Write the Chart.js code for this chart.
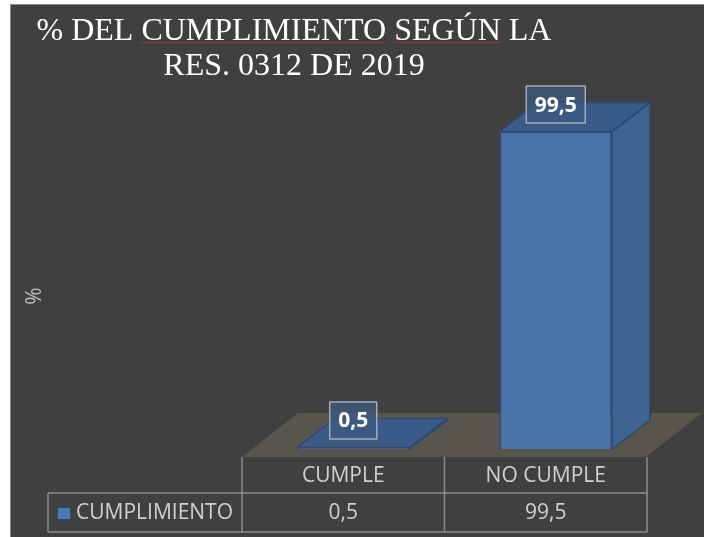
<!DOCTYPE html>
<html>
<head>
<meta charset="utf-8">
<title>% del cumplimiento</title>
<script src="https://cdn.jsdelivr.net/npm/chart.js@4/dist/chart.umd.min.js"></script>
<style>
    html, body { margin: 0; padding: 0; background: #ffffff; }
    #wrap { width: 704px; height: 537px; }
</style>
</head>
<body>
<div id="wrap"><canvas id="chart" width="704" height="537"></canvas></div>
<script>
// Chart data
const categories = ['CUMPLE', 'NO CUMPLE'];
const cumplimiento = [0.5, 99.5];
const seriesName = 'CUMPLIMIENTO';
const titleLines = ['% DEL CUMPLIMIENTO SEGÚN LA', 'RES. 0312 DE 2019'];
const axisTitle = '%';
const misspelled = ['CUMPLIMIENTO', 'SEGÚN'];

// Style constants
const BG = '#404040';
const TEXT = '#d0d0d0';
const GRID = '#8a8a8a';
const FLOOR = '#58554c';
const FRONT = 'rgba(74, 121, 180, 0.9)';
const SIDE = '#3f6393';
const TOP = '#3a5b87';
const EDGE = '#2d4a72';
const DX = 38, DY = -29;          // bar depth
const GAP_X = -10, GAP_Y = 8;     // floor front edge vs bar base
const FLOOR_DX = 56, FLOOR_DY = -44;

function fmt(v) {
    return v.toFixed(1).replace('.', ',');
}

function poly(ctx, pts, fill, stroke, lw) {
    ctx.beginPath();
    ctx.moveTo(pts[0][0], pts[0][1]);
    for (let i = 1; i < pts.length; i++) ctx.lineTo(pts[i][0], pts[i][1]);
    ctx.closePath();
    if (fill) { ctx.fillStyle = fill; ctx.fill(); }
    if (stroke) { ctx.strokeStyle = stroke; ctx.lineWidth = lw || 1; ctx.stroke(); }
}

const scene3d = {
    id: 'scene3d',
    beforeDraw(chart) {
        const ctx = chart.ctx;
        const area = chart.chartArea;
        ctx.save();
        // Frame
        ctx.fillStyle = '#ffffff';
        ctx.fillRect(0, 0, chart.width, chart.height);
        ctx.fillStyle = BG;
        ctx.fillRect(10, 4, chart.width - 10, chart.height - 4);
        ctx.strokeStyle = '#8c8c8c';
        ctx.lineWidth = 1;
        ctx.beginPath();
        ctx.moveTo(10.5, chart.height);
        ctx.lineTo(10.5, 4.5);
        ctx.lineTo(chart.width, 4.5);
        ctx.stroke();

        // Title
        ctx.fillStyle = '#ffffff';
        ctx.font = '32px "Liberation Serif", "Times New Roman", serif';
        ctx.textAlign = 'center';
        ctx.textBaseline = 'alphabetic';
        const cx = 294;
        ctx.fillText(titleLines[0], cx, 40);
        ctx.fillText(titleLines[1], cx, 75);
        // spell-check underline in the original
        const w0 = ctx.measureText(titleLines[0]).width;
        const x0 = cx - w0 / 2;
        ctx.strokeStyle = 'rgba(190, 50, 50, 0.7)';
        ctx.lineWidth = 1;
        misspelled.forEach(word => {
            const idx = titleLines[0].indexOf(word);
            if (idx < 0) return;
            const a = x0 + ctx.measureText(titleLines[0].slice(0, idx)).width;
            const b = a + ctx.measureText(word).width;
            ctx.beginPath();
            ctx.moveTo(a, 42.5);
            ctx.lineTo(b, 42.5);
            ctx.stroke();
        });

        // Axis title
        ctx.save();
        ctx.translate(35, 296);
        ctx.rotate(-Math.PI / 2);
        ctx.fillStyle = '#bfbfbf';
        ctx.font = '21px "Open Sans", sans-serif';
        ctx.textAlign = 'center';
        ctx.textBaseline = 'middle';
        ctx.fillText(axisTitle, 0, 0);
        ctx.restore();

        // Data table
        const colW = (area.right - area.left) / categories.length;
        const tx = area.left + GAP_X;
        const ty = area.bottom + GAP_Y;
        const rowSplit = ty + 36;
        const tableBottom = rowSplit + 39;
        const legendLeft = 48;
        ctx.strokeStyle = GRID;
        ctx.lineWidth = 1.5;
        ctx.beginPath();
        for (let i = 0; i <= categories.length; i++) {
            const x = tx + i * colW;
            ctx.moveTo(x, ty);
            ctx.lineTo(x, tableBottom);
        }
        ctx.moveTo(legendLeft, rowSplit);
        ctx.lineTo(tx + categories.length * colW, rowSplit);
        ctx.moveTo(legendLeft, tableBottom);
        ctx.lineTo(tx + categories.length * colW, tableBottom);
        ctx.moveTo(legendLeft, rowSplit);
        ctx.lineTo(legendLeft, tableBottom);
        ctx.stroke();

        ctx.fillStyle = TEXT;
        ctx.font = '21px "Open Sans", sans-serif';
        ctx.textAlign = 'center';
        ctx.textBaseline = 'middle';
        categories.forEach((c, i) => {
            const x = tx + (i + 0.5) * colW;
            ctx.fillText(c, x, (ty + rowSplit) / 2 + 1);
            ctx.fillText(fmt(cumplimiento[i]), x, (rowSplit + tableBottom) / 2 + 1);
        });
        // legend key
        ctx.fillStyle = '#4a79b4';
        ctx.fillRect(57, 507, 14, 13);
        ctx.strokeStyle = EDGE;
        ctx.lineWidth = 1;
        ctx.strokeRect(57.5, 507.5, 13, 12);
        ctx.fillStyle = TEXT;
        ctx.textAlign = 'left';
        ctx.fillText(seriesName, 76, (rowSplit + tableBottom) / 2 + 1);
        ctx.restore();
    },
    beforeDatasetsDraw(chart) {
        const ctx = chart.ctx;
        const area = chart.chartArea;
        ctx.save();
        // Floor
        const fl = area.left + GAP_X, fr = area.right + GAP_X - 1, fy = area.bottom + GAP_Y;
        poly(ctx, [[fl, fy], [fr, fy], [fr + FLOOR_DX, fy + FLOOR_DY], [fl + FLOOR_DX, fy + FLOOR_DY]], FLOOR);

        // Hidden back edges, seen through the transparent front face
        const bars = chart.getDatasetMeta(0).data;
        ctx.strokeStyle = 'rgba(45, 74, 114, 0.8)';
        ctx.lineWidth = 1.5;
        bars.forEach(bar => {
            const l = bar.x - bar.width / 2, r = bar.x + bar.width / 2;
            if (bar.base - bar.y < 4) return;
            ctx.beginPath();
            ctx.moveTo(l, bar.base);
            ctx.lineTo(l + DX, bar.base + DY);
            ctx.lineTo(r + DX, bar.base + DY);
            ctx.moveTo(l + DX, bar.base + DY);
            ctx.lineTo(l + DX, bar.y + DY);
            ctx.stroke();
        });
        ctx.restore();
    },
    afterDatasetsDraw(chart) {
        const ctx = chart.ctx;
        const bars = chart.getDatasetMeta(0).data;
        ctx.save();
        ctx.lineJoin = 'round';
        bars.forEach(bar => {
            const l = bar.x - bar.width / 2, r = bar.x + bar.width / 2;
            const t = bar.y, b = bar.base;
            // side face
            poly(ctx, [[r, t], [r + DX, t + DY], [r + DX, b + DY], [r, b]], SIDE, EDGE, 1.5);
            // top face
            poly(ctx, [[l, t], [r, t], [r + DX, t + DY], [l + DX, t + DY]], TOP, EDGE, 1.5);
        });

        // Data labels
        ctx.font = 'bold 21px "Open Sans", sans-serif';
        ctx.textAlign = 'center';
        ctx.textBaseline = 'middle';
        bars.forEach((bar, i) => {
            const txt = fmt(cumplimiento[i]);
            const w = ctx.measureText(txt).width + 17;
            const h = 37;
            const cx = bar.x, cy = bar.y - 27;
            ctx.fillStyle = 'rgba(60, 90, 130, 0.72)';
            ctx.fillRect(cx - w / 2, cy - h / 2, w, h);
            ctx.strokeStyle = 'rgba(175, 180, 188, 0.9)';
            ctx.lineWidth = 1.5;
            ctx.strokeRect(cx - w / 2, cy - h / 2, w, h);
            ctx.fillStyle = '#ffffff';
            ctx.fillText(txt, cx, cy + 1);
        });
        ctx.restore();
    }
};

const ctx = document.getElementById('chart').getContext('2d');
new Chart(ctx, {
    type: 'bar',
    data: {
        labels: categories,
        datasets: [{
            label: seriesName,
            data: cumplimiento,
            backgroundColor: FRONT,
            borderColor: EDGE,
            borderWidth: 1.5,
            barPercentage: 0.555,
            categoryPercentage: 1
        }]
    },
    options: {
        responsive: false,
        devicePixelRatio: 1,
        animation: false,
        layout: {
            padding: { left: 252, right: 47, top: 130, bottom: 88 }
        },
        plugins: {
            legend: { display: false },
            title: { display: false },
            tooltip: { enabled: false }
        },
        scales: {
            x: { display: false },
            y: { display: false, min: 0, max: 100 }
        }
    },
    plugins: [scene3d]
});
</script>
</body>
</html>
